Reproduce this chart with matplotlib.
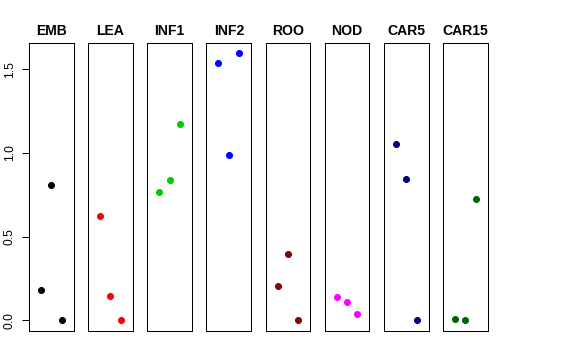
import numpy as np
import matplotlib.pyplot as plt

plt.rcParams["font.family"] = ["Liberation Sans", "DejaVu Sans"]

# Gewebe und Werte (je 3 Proben)
gewebe = ["EMB", "LEA", "INF1", "INF2", "ROO", "NOD", "CAR5", "CAR15"]
werte = [
    [0.18, 0.81, 0.00],
    [0.625, 0.148, 0.00],
    [0.768, 0.836, 1.17],
    [1.537, 0.986, 1.595],
    [0.208, 0.399, 0.00],
    [0.138, 0.112, 0.038],
    [1.054, 0.844, 0.00],
    [0.006, 0.00, 0.723],
]
farben = ["black", "#FF0000", "#00CD00", "#0000FF", "#8B0000", "#FF00FF", "#000080", "#006400"]
proben = [1, 2, 3]
yticks = [0.0, 0.5, 1.0, 1.5]

B, H = 576, 360
fig = plt.figure(figsize=(B / 72, H / 72), dpi=72)

links0, abstand, breite = 29, 59.14, 44.7
oben, unten = 43.3, 330.7

for i, (name, w, f) in enumerate(zip(gewebe, werte, farben)):
    links = links0 + i * abstand
    ax = fig.add_axes([links / B, 1 - unten / H, breite / B, (unten - oben) / H])
    ax.plot(proben, w, "o", color=f, markersize=6)
    ax.set_xlim(-0.16, 4.16)
    ax.set_ylim(-0.062, 1.655)
    ax.set_xticks([])
    ax.set_title(name, fontsize=14, fontweight="bold", pad=8)
    for s in ax.spines.values():
        s.set_linewidth(1)
        s.set_color("black")
    if i == 0:
        ax.set_yticks(yticks)
        ax.tick_params(axis="y", length=7, width=1, pad=6, labelsize=12, labelrotation=90)
        for t in ax.get_yticklabels():
            t.set_verticalalignment("center")
    else:
        ax.set_yticks([])

plt.savefig("out.png", dpi=72)
